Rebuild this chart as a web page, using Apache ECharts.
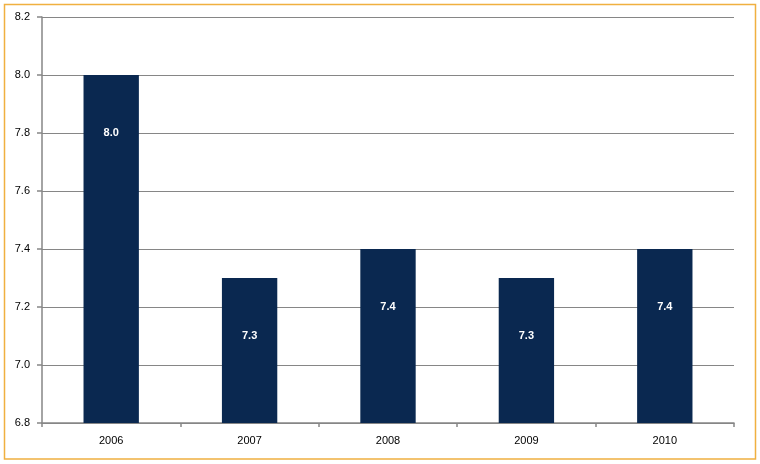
<!DOCTYPE html>
<html>
<head>
<meta charset="utf-8">
<script src="https://cdn.jsdelivr.net/npm/echarts@6/dist/echarts.min.js"></script>
<style>
html,body{margin:0;padding:0;background:#fff;}
#c{width:760px;height:464px;}
</style>
</head>
<body>
<div id="c"></div>
<script>
const categories = ['2006', '2007', '2008', '2009', '2010'];
const values = [8.0, 7.3, 7.4, 7.3, 7.4];
const yTicks = [6.8, 7.0, 7.2, 7.4, 7.6, 7.8, 8.0, 8.2];

const chart = echarts.init(document.getElementById('c'), null, {renderer: 'canvas'});
const font = '"Liberation Sans", Arial, sans-serif';
chart.setOption({
  animation: false,
  backgroundColor: '#ffffff',
  graphic: [{
    type: 'rect',
    shape: {x: 4.5, y: 4.5, width: 751, height: 454.5},
    style: {fill: 'none', stroke: '#F0B040', lineWidth: 1.5},
    silent: true
  }],
  grid: {left: 42, right: 26, top: 17, bottom: 41, containLabel: false},
  xAxis: {
    type: 'category',
    data: categories,
    axisLine: {lineStyle: {color: '#868686', width: 1.5}},
    axisTick: {show: true, alignWithLabel: false, length: 4, lineStyle: {color: '#868686', width: 1.5}},
    axisLabel: {color: '#000', fontSize: 11, fontFamily: font, margin: 12}
  },
  yAxis: {
    type: 'value',
    min: yTicks[0],
    max: yTicks[yTicks.length - 1],
    interval: 0.2,
    axisLine: {show: true, lineStyle: {color: '#868686', width: 1.5}},
    axisTick: {show: true, length: 5, lineStyle: {color: '#868686', width: 1.5}},
    splitLine: {show: true, lineStyle: {color: '#868686', width: 1}},
    axisLabel: {color: '#000', fontSize: 11, fontFamily: font, margin: 12,
      formatter: v => v.toFixed(1)}
  },
  series: [{
    type: 'bar',
    data: values,
    barWidth: '40%',
    itemStyle: {color: '#0A2850'},
    label: {
      show: true,
      position: 'insideTop',
      distance: 52,
      color: '#fff',
      fontWeight: 'bold',
      fontSize: 11,
      fontFamily: font,
      formatter: p => p.value.toFixed(1)
    }
  }]
});
</script>
</body>
</html>
